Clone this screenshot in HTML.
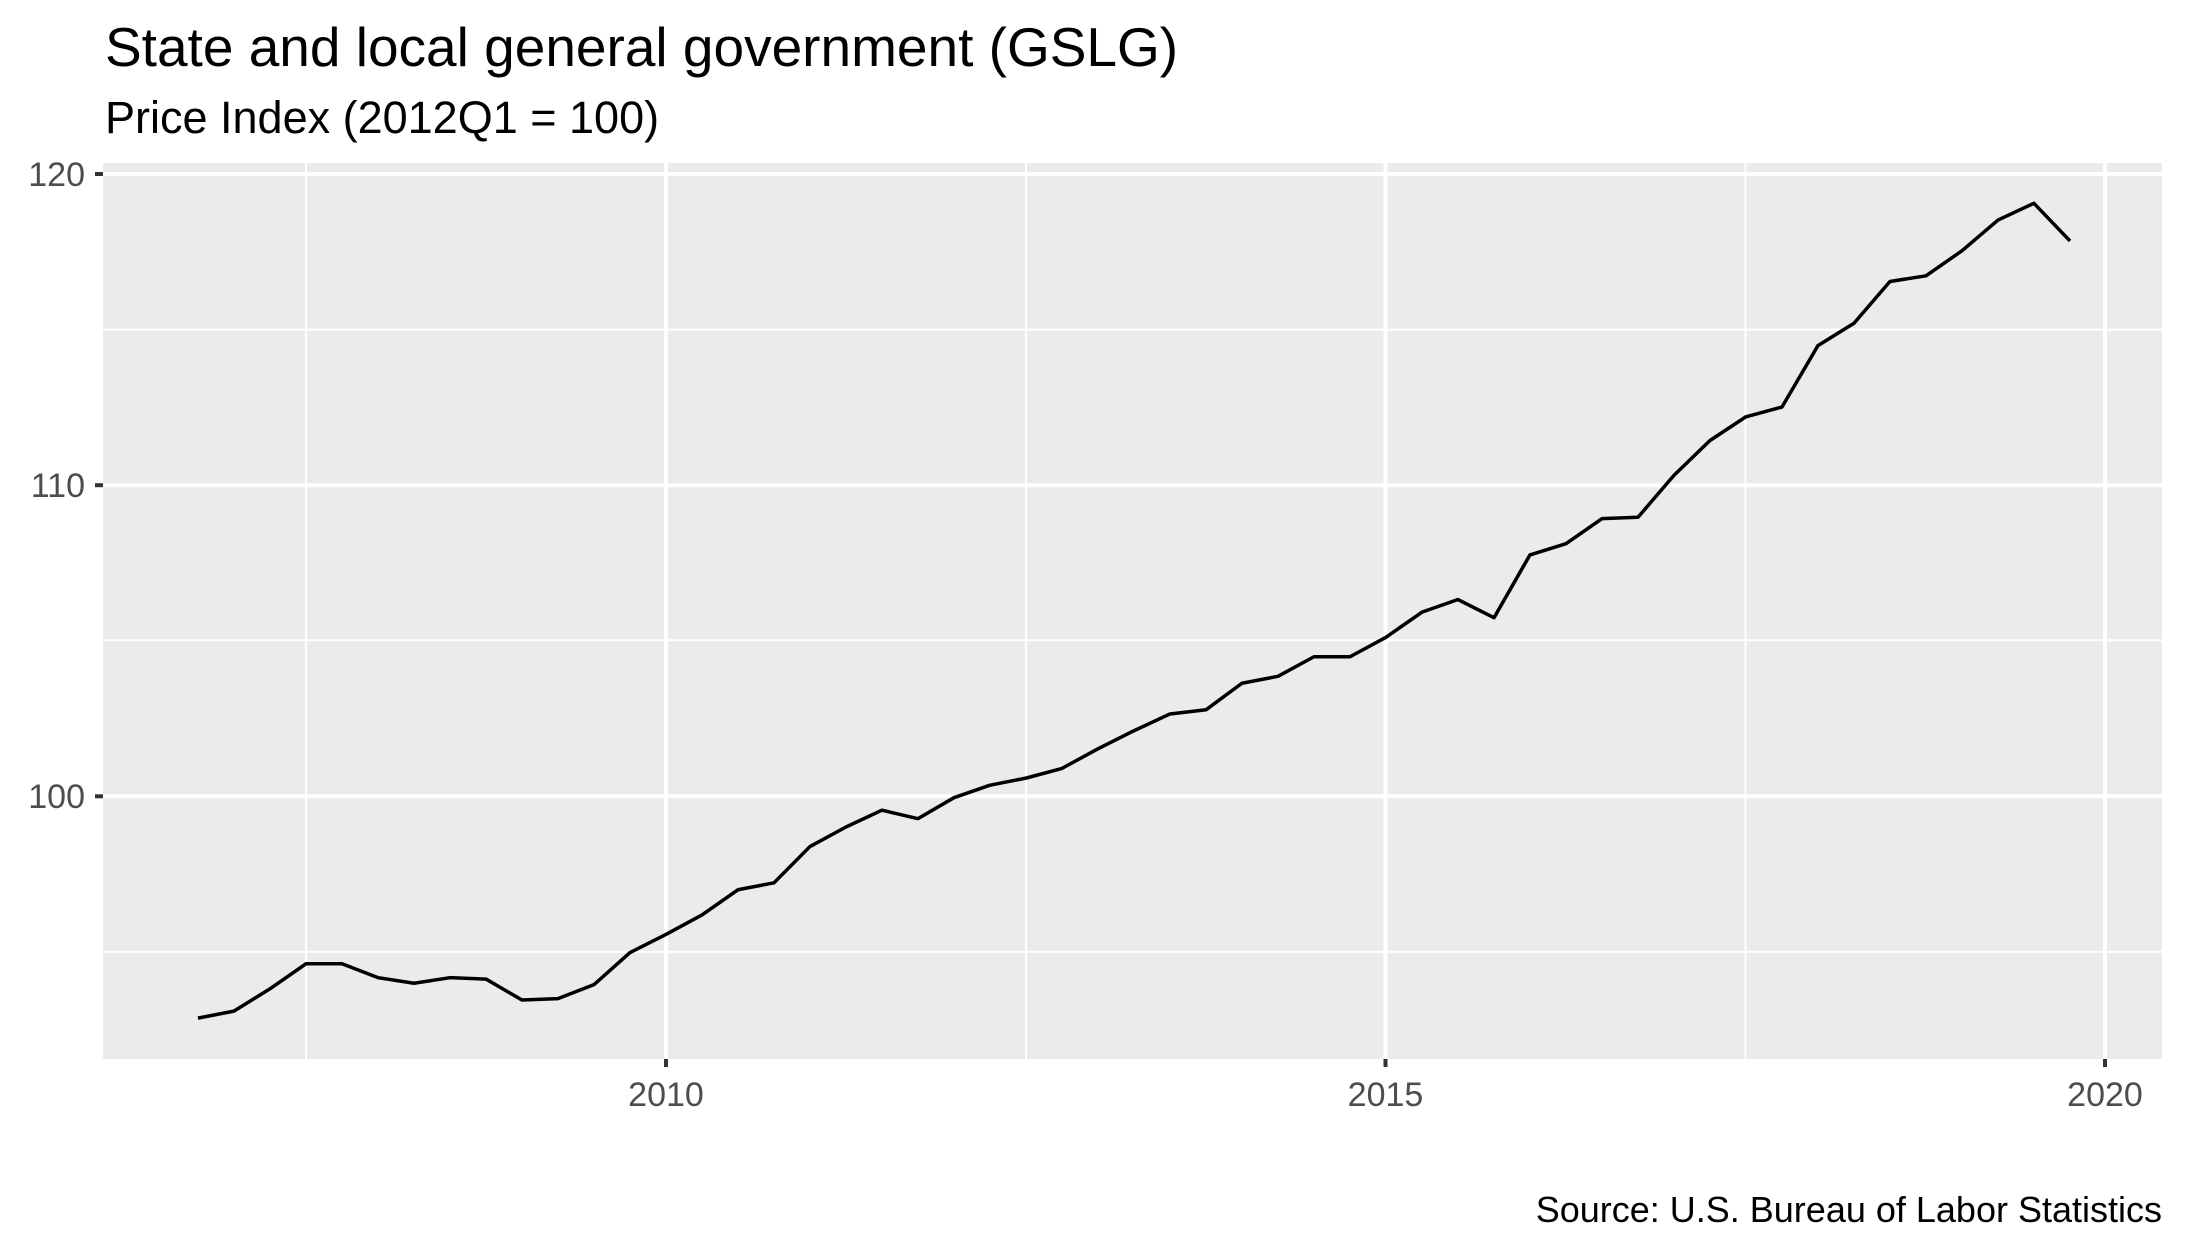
<!DOCTYPE html>
<html><head><meta charset="utf-8"><style>
html,body{margin:0;padding:0;background:#fff;}
svg{display:block;font-family:"Liberation Sans",Arial,sans-serif;}
</style></head><body>
<svg width="2187" height="1250" viewBox="0 0 2187 1250" xmlns="http://www.w3.org/2000/svg">
<rect width="2187" height="1250" fill="#fff"/>
<text x="105" y="66" font-size="55" fill="#000">State and local general government (GSLG)</text>
<text x="105" y="133" font-size="45" fill="#000">Price Index (2012Q1 = 100)</text>
<rect x="103" y="163" width="2059" height="896" fill="#ebebeb"/>
<g stroke="#fff" stroke-width="2">
<line x1="103" x2="2162" y1="329.6" y2="329.6"/>
<line x1="103" x2="2162" y1="640.3" y2="640.3"/>
<line x1="103" x2="2162" y1="951.9" y2="951.9"/>
<line y1="163" y2="1059" x1="306" x2="306"/>
<line y1="163" y2="1059" x1="1026" x2="1026"/>
<line y1="163" y2="1059" x1="1745.5" x2="1745.5"/>
</g>
<g stroke="#fff" stroke-width="4">
<line x1="103" x2="2162" y1="174" y2="174"/>
<line x1="103" x2="2162" y1="485.2" y2="485.2"/>
<line x1="103" x2="2162" y1="796.3" y2="796.3"/>
<line y1="163" y2="1059" x1="666" x2="666"/>
<line y1="163" y2="1059" x1="1385.5" x2="1385.5"/>
<line y1="163" y2="1059" x1="2105" x2="2105"/>
</g>
<g transform="matrix(0.9931,0,0,0.9933,4.54,1.166)">
<polyline fill="none" stroke="#000" stroke-width="3.5" vector-effect="non-scaling-stroke" stroke-linejoin="round" points="194.8,1023.8 231,1016.8 267.3,994.3 303.5,969.1 339.8,969.1 376,983.1 412.3,988.7 448.5,983.1 484.8,984.5 521,1005.6 557.3,1004.2 593.5,990.1 629.8,957.8 666,939.6 702.3,919.9 738.5,894.6 774.8,887.6 811,851.1 847.3,831.4 883.5,814.5 919.8,823 956,801.9 992.3,789.3 1028.5,782.2 1064.8,772.4 1101,752.7 1137.3,734.5 1173.5,717.6 1209.8,713.4 1246,686.7 1282.3,679.7 1318.5,660 1354.8,660 1391,640.4 1427.3,615.1 1463.5,602.4 1499.8,620.7 1536,557.5 1572.3,546.2 1608.5,521 1644.8,519.6 1681,477.4 1717.3,442.3 1753.5,418.4 1789.8,408.6 1826,346.8 1862.3,324.3 1898.5,282.2 1934.8,276.5 1971,251.3 2007.3,220.4 2043.5,203.5 2079.8,241.4"/>
</g>
<g stroke="#333" stroke-width="4">
<line x1="95" x2="103" y1="174" y2="174"/>
<line x1="95" x2="103" y1="485.2" y2="485.2"/>
<line x1="95" x2="103" y1="796.3" y2="796.3"/>
<line y1="1059" y2="1067" x1="666" x2="666"/>
<line y1="1059" y2="1067" x1="1385.5" x2="1385.5"/>
<line y1="1059" y2="1067" x1="2105" x2="2105"/>
</g>
<g font-size="34" fill="#4d4d4d" text-anchor="end">
<text x="85" y="186">120</text>
<text x="85" y="497">110</text>
<text x="85" y="808">100</text>
</g>
<g font-size="34" fill="#4d4d4d" text-anchor="middle">
<text x="666" y="1106">2010</text>
<text x="1385.5" y="1106">2015</text>
<text x="2105" y="1106">2020</text>
</g>
<text x="2162" y="1222" font-size="36" fill="#000" text-anchor="end">Source: U.S. Bureau of Labor Statistics</text>
</svg>
</body></html>
